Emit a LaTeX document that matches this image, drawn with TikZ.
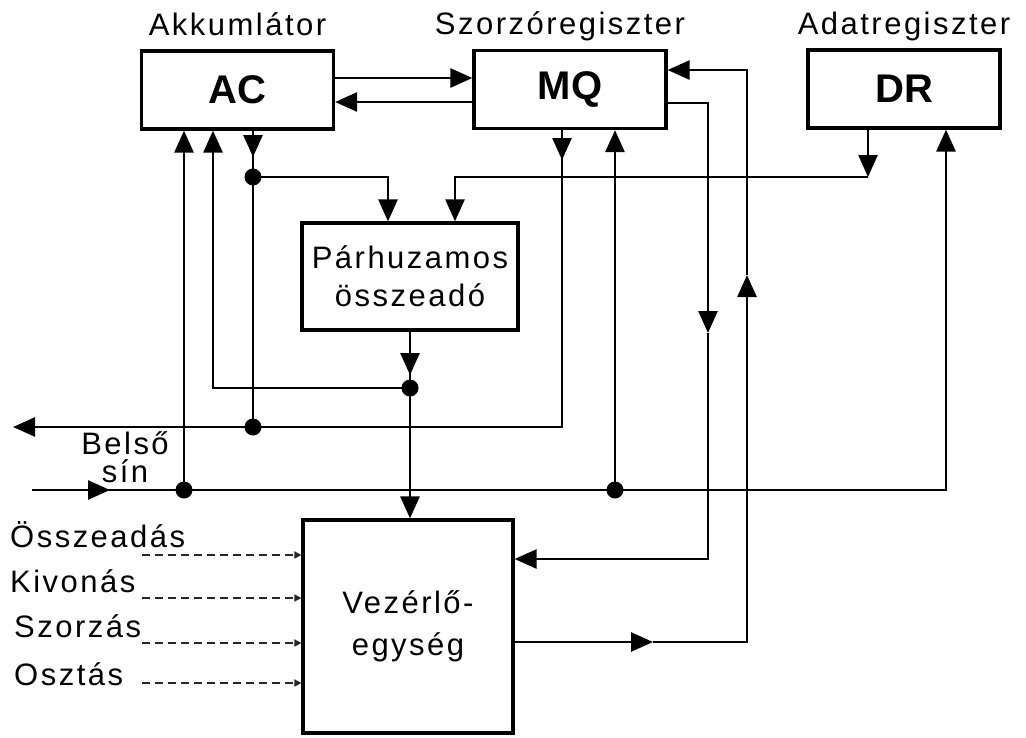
\documentclass[tikz,border=0pt]{standalone}
\usepackage{fontspec}
\setmainfont[LetterSpace=8]{Liberation Sans}
\newfontfamily\regfont{Liberation Sans}
\usetikzlibrary{arrows.meta, positioning}

\begin{document}
\begin{tikzpicture}[
    x=1pt, y=-1pt,
    >={Triangle[length=22pt, width=19pt]},
    every node/.style={font=\fontsize{31}{38}\selectfont},
    reg/.style={draw, line width=3.2pt, inner sep=0pt, minimum width=192pt, minimum height=78pt,
                font=\regfont\fontsize{40}{42}\selectfont\bfseries},
    block/.style={draw, line width=3.2pt, inner sep=0pt, align=center},
    regname/.style={inner sep=0pt, text depth=7pt},
    wire/.style={line width=2.6pt},
    ctl/.style={line width=2.2pt, black!85, dash pattern=on 8pt off 5pt, -{Triangle[length=7pt, width=7pt]}}
  ]
  \useasboundingbox (0,0) rectangle (1026,737);

  % registers and units
  \node[reg] (ac) at (237.5,90) {AC};
  \node[reg] (mq) at (570,89.5) {MQ};
  \node[reg] (dr) at (904,89) {DR};
  \node[block, minimum width=216pt, minimum height=107pt] (add) at (410,276.5) {Párhuzamos\\összeadó};
  \node[block, minimum width=210pt, minimum height=213pt,
        font=\fontsize{31}{42}\selectfont] (ctrl) at (408,626.5) {Vezérlő-\\egység};

  \node[regname, above=7pt of ac] (acname) {Akkumlátor};
  \node[regname, above=7pt of mq, xshift=-10pt] (mqname) {Szorzóregiszter};
  \node[regname, above=7pt of dr] (drname) {Adatregiszter};
  \node[align=center, font=\fontsize{31}{28}\selectfont] (bus) at (125,457) {Belső\\sín};

  % operations
  \foreach \op/\x/\yb/\yl [count=\i] in {Összeadás/10/547/555, Kivonás/10/592/598,
                                         Szorzás/14/637/643, Osztás/14/685/683} {
    \node[anchor=base west, inner sep=0pt] (op\i) at (\x,\yb) {\op};
    \coordinate (d\i) at (142,\yl);
    \draw[ctl] (d\i) -- (d\i -| ctrl.west);
  }

  % junctions
  \coordinate (j1) at (253,177);
  \coordinate (j2) at (253,427);
  \coordinate (j3) at (410,388);
  \coordinate (j4) at (184,490);
  \coordinate (j5) at (615,490);
  \coordinate (k1) at (868,177);
  \coordinate (b0) at (32,490);
  \coordinate (b1) at (13,427);

  % AC <-> MQ
  \draw[wire, ->] (ac.east |- 0,78) -- (mq.west |- 0,78);
  \draw[wire, ->] (mq.west |- 0,102) -- (ac.east |- 0,102);

  % AC and DR into the adder
  \draw[wire, ->] (ac.south -| j1) -- (253,157);
  \draw[wire] (ac.south -| j1) -- (j2);
  \draw[wire, ->] (j1) -| (add.north -| 388,0);
  \draw[wire, ->] (dr.south -| k1) -- (k1);
  \draw[wire, ->] (k1) -| (add.north -| 455,0);

  % adder out
  \draw[wire, ->] (add.south -| j3) -- (410,375);
  \draw[wire] (add.south -| j3) -- (j3);
  \draw[wire, ->] (j3) -- (ctrl.north -| j3);
  \draw[wire, ->] (j3) -| (ac.south -| 213,0);

  % internal bus
  \draw[wire, ->] (mq.south -| 562,0) -- (562,160);
  \draw[wire, ->] (mq.south -| 562,0) |- (b1);
  \draw[wire, ->] (b0) -- (110,490);
  \draw[wire, ->] (b0) -| (dr.south -| 946,0);
  \draw[wire, ->] (j4) -- (ac.south -| j4);
  \draw[wire, ->] (j5) -- (mq.south -| j5);

  % MQ <-> control unit
  \draw[wire, ->] (mq.east |- 0,103) -| (708,333);
  \draw[wire, ->] (708,333) |- (ctrl.east |- 0,559);
  \draw[wire, ->] (ctrl.east |- 0,642) -- (653,642);
  \draw[wire, ->] (653,642) -| (747,275);
  \draw[wire, ->] (747,275) |- (mq.east |- 0,70);

  \foreach \j in {j1,j2,j3,j4,j5}
    \fill (\j) circle (8.5pt);
\end{tikzpicture}
\end{document}
